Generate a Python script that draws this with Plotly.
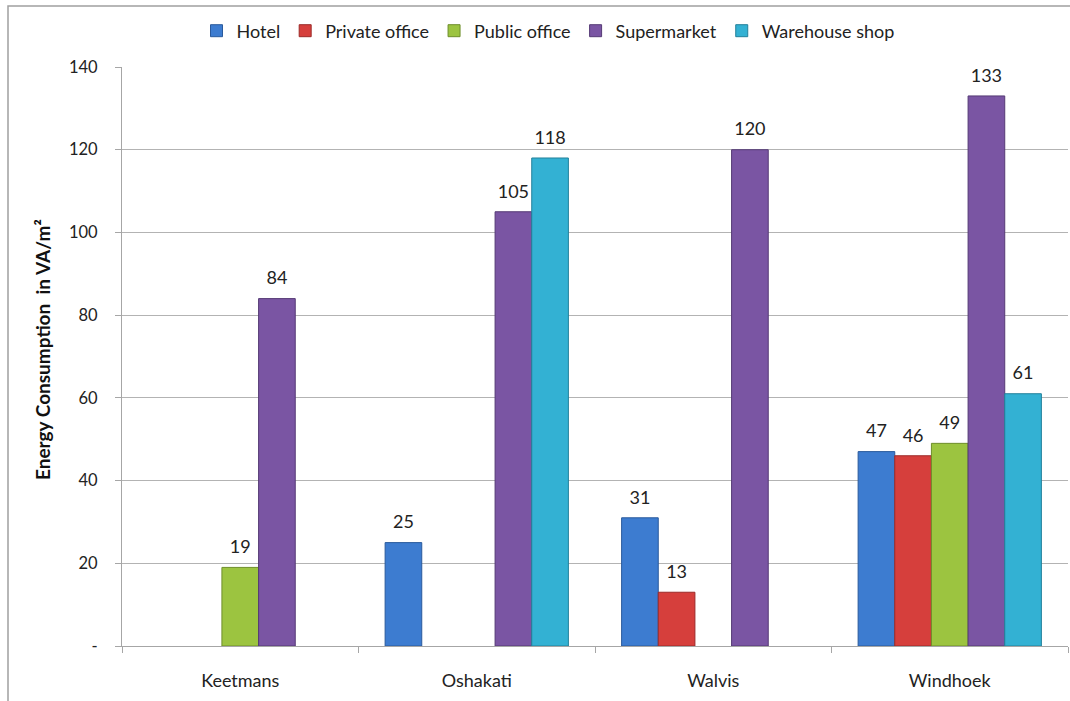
import plotly.graph_objects as go

# Towns on the x axis
towns = ["Keetmans", "Oshakati", "Walvis", "Windhoek"]

# Energy consumption per building type (VA/m²); None = no data
hotel = [None, 25, 31, 47]
private_office = [None, None, 13, 46]
public_office = [19, None, None, 49]
supermarket = [84, 105, 120, 133]
warehouse_shop = [None, 118, None, 61]

y_ticks = [0, 20, 40, 60, 80, 100, 120, 140]
y_tick_labels = ["-", "20", "40", "60", "80", "100", "120", "140"]

series = [
    ("Hotel", hotel, "#3d7cd0", "#2a5a9c"),
    ("Private office", private_office, "#d63f3c", "#9c2b29"),
    ("Public office", public_office, "#9cc440", "#6e8e2a"),
    ("Supermarket", supermarket, "#7a55a3", "#553a75"),
    ("Warehouse shop", warehouse_shop, "#33b1d3", "#22809b"),
]

FONT = "Lato, 'Open Sans', sans-serif"
GAP = 0.225

fig = go.Figure()
for name, vals, color, edge in series:
    fig.add_trace(go.Bar(
        name=name,
        x=towns,
        y=vals,
        offsetgroup=name,
        alignmentgroup="g",
        marker=dict(color=color, line=dict(color=edge, width=1)),
        hoverinfo="x+y+name",
    ))

# value labels above each bar, grouped the same way as the bars
for name, vals, color, edge in series:
    fig.add_trace(go.Scatter(
        x=towns,
        y=vals,
        offsetgroup=name,
        alignmentgroup="g",
        mode="markers+text",
        marker=dict(size=14, color="rgba(0,0,0,0)"),
        text=[None if v is None else f"{v:.0f}" for v in vals],
        textposition="top center",
        textfont=dict(size=18, color="#222222", family=FONT),
        showlegend=False,
        hoverinfo="skip",
        cliponaxis=False,
    ))

W, H = 1070, 701
L, R, T, B = 122, 2, 67, 55
plot_w = W - L - R
plot_h = H - T - B

def px_x(x):
    return (x - L) / plot_w

def px_y(y):
    return (H - B - y) / plot_h

fig.update_layout(
    width=W,
    height=H,
    margin=dict(l=L, r=R, t=T, b=B),
    paper_bgcolor="white",
    plot_bgcolor="white",
    barmode="group",
    bargap=GAP,
    bargroupgap=0,
    scattermode="group",
    scattergap=GAP,
    font=dict(family=FONT, size=16, color="#222222"),
    showlegend=True,
    legend=dict(
        orientation="h",
        x=px_x(548),
        xanchor="center",
        y=px_y(31),
        yanchor="middle",
        font=dict(size=18, color="#222222", family=FONT),
        itemwidth=30,
        bgcolor="rgba(0,0,0,0)",
    ),
    xaxis=dict(
        type="category",
        tickson="boundaries",
        ticks="outside",
        ticklen=6,
        tickcolor="#a6a6a6",
        showline=True,
        linecolor="#a6a6a6",
        linewidth=1,
        showgrid=False,
        tickfont=dict(size=18, color="#222222", family=FONT),
        ticklabelstandoff=18,
    ),
    yaxis=dict(
        range=[0, 140],
        tickvals=y_ticks,
        ticktext=y_tick_labels,
        ticks="outside",
        ticklen=6,
        tickcolor="#a6a6a6",
        showline=True,
        linecolor="#a6a6a6",
        linewidth=1,
        showgrid=True,
        gridcolor="#b3b3b3",
        gridwidth=1,
        zeroline=False,
        tickfont=dict(size=16.5, color="#222222", family=FONT),
        ticklabelstandoff=14,
    ),
    annotations=[
        dict(
            text="<b>Energy Consumption  in VA/m²</b>",
            xref="paper", yref="paper",
            x=px_x(42), y=px_y(350),
            xanchor="center", yanchor="middle",
            textangle=-90,
            showarrow=False,
            font=dict(size=19, color="#111111", family=FONT),
        )
    ],
    shapes=[
        # outer chart frame
        dict(
            type="rect", xref="paper", yref="paper",
            x0=px_x(8), x1=px_x(1080), y0=px_y(720), y1=px_y(6),
            line=dict(color="#a0a0a0", width=1.5),
            fillcolor="rgba(0,0,0,0)",
            layer="below",
        )
    ],
)

fig.write_html("out.html")
